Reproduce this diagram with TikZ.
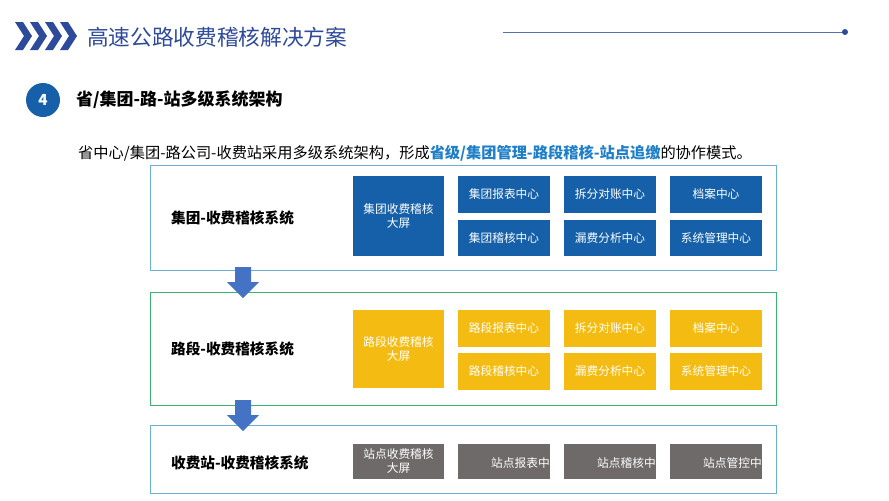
\documentclass[tikz,border=0pt]{standalone}
\usepackage{fontspec}
\setmainfont{Noto Sans CJK SC}
\usepackage{tikz}
\definecolor{navy}{HTML}{2E4A9A}
\definecolor{hiblue}{HTML}{1E7FC8}
\definecolor{boxblue}{HTML}{1560A8}
\definecolor{boxgold}{HTML}{F4BC12}
\definecolor{boxgray}{HTML}{6E6A6A}
\definecolor{frameblue}{HTML}{6AAFD6}
\definecolor{framegreen}{HTML}{3CB371}
\definecolor{arrowblue}{HTML}{4472C4}
\tikzset{
  frame/.style={draw=#1, line width=0.8pt},
  tile/.style={fill=#1, text=white, font=\fontsize{10}{12}\selectfont, align=center, inner sep=0pt},
  syslabel/.style={anchor=west, font=\fontsize{12.5}{14}\selectfont\bfseries}
}
\newcommand{\downarrowat}[2]{% x, top y
  \fill[arrowblue] ({#1-8},#2) -- ({#1+8},#2) -- ({#1+8},{#2+15}) -- ({#1+16},{#2+15}) -- (#1,{#2+31}) -- ({#1-16},{#2+15}) -- ({#1-8},{#2+15}) -- cycle;}
\begin{document}
\begin{tikzpicture}[x=0.03cm,y=-0.03cm]
\useasboundingbox (0,0) rectangle (889,500);
% header
\foreach \i in {0,1,2,3}
  \fill[navy] ({15+\i*15},22) -- ({23+\i*15},22) -- ({32+\i*15},36) -- ({23+\i*15},50) -- ({15+\i*15},50) -- ({24+\i*15},36) -- cycle;
\node[anchor=west, text=navy, font=\fontsize{18.5}{20}\selectfont] (title) at (83,37) {高速公路收费稽核解决方案};
\coordinate (lineL) at (503,32);
\coordinate (lineR) at (845,32);
\draw[navy!80, line width=0.8pt] (lineL) -- (lineR);
\fill[navy] (lineR) circle (3);
\node[circle, fill=boxblue, minimum size=34*0.03cm, inner sep=0pt, text=white, font=\fontsize{13}{14}\selectfont\bfseries\itshape] (num) at (43,100) {4};
\node[anchor=west, font=\fontsize{14.5}{16}\selectfont\bfseries] (head) at (72,100) {省/集团-路-站多级系统架构};
\node[anchor=west, font=\fontsize{13}{14}\selectfont] (intro) at (74,153) {省中心/集团-路公司-收费站采用多级系统架构，形成\textcolor{hiblue}{\bfseries 省级/集团管理-路段稽核-站点追缴}的协作模式。};
% frames
\draw[frame=frameblue] (150,165) rectangle (776,270);
\draw[frame=framegreen] (150,292) rectangle (776,405);
\draw[frame=frameblue] (150,425) rectangle (776,493);
\node[syslabel] (l1) at (167,218) {集团-收费稽核系统};
\node[syslabel] (l2) at (167,349) {路段-收费稽核系统};
\node[syslabel] (l3) at (167,463) {收费站-收费稽核系统};
% level 1
\fill[boxblue] (353,176) rectangle (444,256);
\node[tile=boxblue] (g0) at (398.5,216) {集团收费稽核\\大屏};
\fill[boxblue] (458,176) rectangle (550,213); \node[tile=boxblue] (g1) at (504,194.5) {集团报表中心};
\fill[boxblue] (458,220) rectangle (550,256); \node[tile=boxblue] (g2) at (504,238) {集团稽核中心};
\fill[boxblue] (564,176) rectangle (656,213); \node[tile=boxblue] (g3) at (610,194.5) {拆分对账中心};
\fill[boxblue] (564,220) rectangle (656,256); \node[tile=boxblue] (g4) at (610,238) {漏费分析中心};
\fill[boxblue] (670,176) rectangle (762,213); \node[tile=boxblue] (g5) at (716,194.5) {档案中心};
\fill[boxblue] (670,220) rectangle (762,256); \node[tile=boxblue] (g6) at (716,238) {系统管理中心};
% level 2
\fill[boxgold] (353,310) rectangle (444,388);
\node[tile=boxgold] (r0) at (398.5,349) {路段收费稽核\\大屏};
\fill[boxgold] (458,310) rectangle (550,347); \node[tile=boxgold] (r1) at (504,328.5) {路段报表中心};
\fill[boxgold] (458,353) rectangle (550,390); \node[tile=boxgold] (r2) at (504,371.5) {路段稽核中心};
\fill[boxgold] (564,310) rectangle (656,347); \node[tile=boxgold] (r3) at (610,328.5) {拆分对账中心};
\fill[boxgold] (564,353) rectangle (656,390); \node[tile=boxgold] (r4) at (610,371.5) {漏费分析中心};
\fill[boxgold] (670,310) rectangle (762,347); \node[tile=boxgold] (r5) at (716,328.5) {档案中心};
\fill[boxgold] (670,353) rectangle (762,390); \node[tile=boxgold] (r6) at (716,371.5) {系统管理中心};
% level 3
\fill[boxgray] (353,444) rectangle (444,479);
\node[tile=boxgray] (s0) at (398.5,461.5) {站点收费稽核\\大屏};
\fill[boxgray] (458,444) rectangle (550,479); \node[tile=boxgray, anchor=east] (s1) at (550,463) {站点报表中};
\fill[boxgray] (564,444) rectangle (656,479); \node[tile=boxgray, anchor=east] (s2) at (656,463) {站点稽核中};
\fill[boxgray] (670,444) rectangle (762,479); \node[tile=boxgray, anchor=east] (s3) at (762,463) {站点管控中};
% arrows
\downarrowat{243}{267}
\downarrowat{243}{400}
\end{tikzpicture}
\end{document}
